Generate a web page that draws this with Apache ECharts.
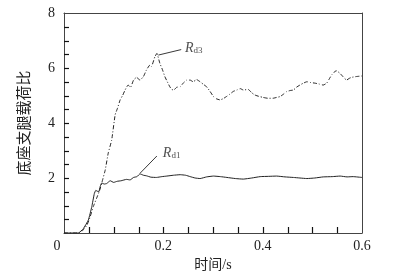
<!DOCTYPE html>
<html><head><meta charset="utf-8">
<script src="https://cdn.jsdelivr.net/npm/echarts@6/dist/echarts.min.js"></script>
<style>html,body{margin:0;padding:0;background:#fff}#c{width:400px;height:277px}</style>
</head><body><div id="c"></div>
<script>
var t1 = [0,0.029,0.039,0.049,0.056,0.061,0.064,0.067,0.07,0.073,0.076,0.081,0.086,0.093,0.1,0.107,0.115,0.126,0.133,0.14,0.147,0.153,0.16,0.166,0.175,0.186,0.197,0.207,0.22,0.234,0.245,0.254,0.264,0.274,0.287,0.301,0.315,0.328,0.345,0.361,0.378,0.395,0.412,0.428,0.445,0.462,0.475,0.489,0.505,0.522,0.54,0.556,0.57,0.582,0.6];
var rd1 = [0,0,0.16,0.47,0.96,1.43,1.55,1.52,1.5,1.7,1.82,1.78,1.8,1.9,1.84,1.88,1.9,1.95,1.93,2.02,2.05,2.15,2.1,2.08,2.03,2.02,2.05,2.07,2.1,2.12,2.1,2.05,2.0,1.98,2.04,2.07,2.05,2.02,1.98,1.96,2.0,2.05,2.06,2.07,2.04,2.02,2.0,1.98,2.0,2.04,2.05,2.07,2.04,2.05,2.02];
var t3 = [0,0.029,0.037,0.046,0.052,0.059,0.066,0.072,0.078,0.083,0.089,0.096,0.103,0.108,0.113,0.118,0.123,0.129,0.134,0.14,0.146,0.153,0.16,0.166,0.173,0.176,0.183,0.187,0.193,0.198,0.203,0.208,0.213,0.217,0.221,0.227,0.234,0.24,0.247,0.254,0.26,0.267,0.274,0.281,0.287,0.294,0.301,0.307,0.314,0.32,0.327,0.334,0.341,0.348,0.355,0.361,0.371,0.378,0.384,0.392,0.401,0.41,0.421,0.428,0.435,0.442,0.448,0.455,0.462,0.468,0.475,0.482,0.489,0.497,0.505,0.513,0.522,0.529,0.534,0.539,0.544,0.548,0.552,0.556,0.562,0.569,0.574,0.579,0.589,0.6];
var rd3 = [0,0,0.08,0.28,0.55,0.96,1.28,1.56,1.95,2.29,2.9,3.38,4.3,4.55,4.84,5.0,5.2,5.38,5.3,5.56,5.66,5.56,5.69,5.93,6.11,6.05,6.41,6.53,6.17,5.95,5.69,5.5,5.32,5.22,5.2,5.3,5.32,5.45,5.56,5.56,5.5,5.58,5.5,5.4,5.32,5.15,4.96,4.88,4.84,4.88,4.96,5.05,5.15,5.2,5.25,5.2,5.22,5.1,5.02,4.97,4.93,4.9,4.9,4.93,4.96,5.05,5.14,5.18,5.2,5.3,5.38,5.45,5.5,5.47,5.45,5.42,5.38,5.45,5.6,5.75,5.85,5.9,5.86,5.8,5.68,5.56,5.62,5.66,5.69,5.71];
var xLabels = [0, 0.2, 0.4, 0.6];
var yLabels = [2, 4, 6, 8];
var xTicks = [0.05,0.1,0.15,0.2,0.25,0.3,0.35,0.4,0.45,0.5,0.55];
var yTicks = [0.5,1,1.5,2,2.5,3,3.5,4,4.5,5,5.5,6,6.5,7,7.5];
var leader3 = [[0.19, 6.47], [0.236, 6.67]];
var leader1 = [[0.153, 2.17], [0.187, 2.8]];
var labelPos3 = [0.2436, 6.73];
var labelPos1 = [0.199, 2.91];

function pairs(t, v){ return t.map(function(x,i){ return [x, v[i]]; }); }
function inList(v, list){ for (var i=0;i<list.length;i++){ if (Math.abs(v-list[i])<1e-6) return true; } return false; }

var serif = 'Liberation Serif';
var cjk = 'Liberation Serif, Noto Sans CJK SC';
var ink = '#222';
var tickColor = '#111';
var chart = echarts.init(document.getElementById('c'), null, {renderer:'canvas'});
var richR = {
  r:{fontFamily:serif, fontStyle:'italic', fontSize:14, color:ink},
  s:{fontFamily:serif, fontSize:9, color:ink, verticalAlign:'bottom', padding:[6,0,0,0]}
};
function frameAxis(pos){
  return {type:'value', position:pos, min:0, max:(pos==='top'?0.6:8), show:true,
    axisLine:{show:true, onZero:false, lineStyle:{color:'#444', width:1}},
    axisTick:{show:false}, axisLabel:{show:false}, splitLine:{show:false}};
}
chart.setOption({
  animation:false,
  backgroundColor:'#fff',
  textStyle:{fontFamily:serif},
  grid:{left:64, right:38, top:13, bottom:44},
  xAxis:[{type:'value', min:0, max:0.6, interval:0.05, position:'bottom',
    name:'时间/s', nameLocation:'middle', nameGap:19,
    nameTextStyle:{fontFamily:cjk, fontSize:14, color:ink},
    axisLine:{show:true, onZero:false, lineStyle:{color:'#444', width:1}},
    axisTick:{show:false},
    splitLine:{show:false},
    axisLabel:{margin:6, fontFamily:serif, fontSize:14, color:ink,
      rich:{o:{fontFamily:serif, fontSize:14, color:ink, padding:[0,14,0,0]}},
      formatter:function(v){ if(!inList(v, xLabels)) return ''; if (Math.abs(v)<1e-9) return '{o|0}'; return String(Math.round(v*10)/10); }}
  }, frameAxis('top')],
  yAxis:[{type:'value', min:0, max:8, interval:0.5, position:'left',
    name:'底座支腿载荷比', nameLocation:'middle', nameGap:31, nameRotate:90,
    nameTextStyle:{fontFamily:cjk, fontSize:15, color:ink},
    axisLine:{show:true, onZero:false, lineStyle:{color:'#444', width:1}},
    axisTick:{show:false},
    splitLine:{show:false},
    axisLabel:{margin:9, fontFamily:serif, fontSize:14, color:ink,
      formatter:function(v){ return inList(v, yLabels) ? String(Math.round(v)) : ''; }}
  }, frameAxis('right')],
  series:[
    {type:'custom', silent:true, clip:false, z:5, data:xTicks.map(function(v){return [v,0];}),
      renderItem:function(params, api){
        var p = api.coord([api.value(0), 0]);
        var x = Math.round(p[0]) + 0.5;
        return {type:'line', shape:{x1:x, y1:p[1], x2:x, y2:p[1]-6}, style:{stroke:tickColor, lineWidth:1.2, fill:null}};
      }},
    {type:'custom', silent:true, clip:false, z:5, data:yTicks.map(function(v){return [0,v];}),
      renderItem:function(params, api){
        var p = api.coord([0, api.value(1)]);
        var y = Math.round(p[1]) + 0.5;
        return {type:'line', shape:{x1:p[0], y1:y, x2:p[0]+5, y2:y}, style:{stroke:tickColor, lineWidth:1.2, fill:null}};
      }},
    {type:'line', data:pairs(t1, rd1), showSymbol:false, symbol:'none', smooth:0.12,
      lineStyle:{color:ink, width:1}},
    {type:'line', data:pairs(t3, rd3), showSymbol:false, symbol:'none', smooth:0.12,
      lineStyle:{color:ink, width:1, type:[4,2,1,2]}},
    {type:'line', data:leader3, showSymbol:false, symbol:'none', lineStyle:{color:ink, width:0.9}},
    {type:'line', data:leader1, showSymbol:false, symbol:'none', lineStyle:{color:ink, width:0.9}},
    {type:'scatter', symbolSize:0, data:[labelPos3, labelPos1],
      label:{show:true, position:'right', distance:0, rich:richR,
        formatter:function(p){ return p.dataIndex===0 ? '{r|R}{s|d3}' : '{r|R}{s|d1}'; }}}
  ]
});
</script></body></html>
